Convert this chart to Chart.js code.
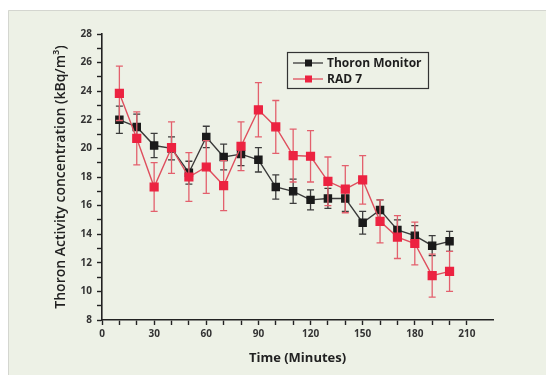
<!DOCTYPE html>
<html>
<head>
<meta charset="utf-8">
<script src="https://cdn.jsdelivr.net/npm/chart.js@4"></script>
<style>
  html, body { margin: 0; padding: 0; background: #fff; }
  #wrap { width: 546px; height: 375px; }
</style>
</head>
<body>
<div id="wrap"><canvas id="thoronChart" width="546" height="375"></canvas></div>
<script>
// sampling times (minutes)
const minutes = [10, 20, 30, 40, 50, 60, 70, 80, 90, 100, 110, 120, 130, 140, 150, 160, 170, 180, 190, 200];

// Thoron Monitor readings (kBq/m3) and their uncertainties
const thoronMonitor = [22.0, 21.5, 20.2, 20.0, 18.3, 20.8, 19.4, 19.6, 19.2, 17.3, 17.0, 16.4, 16.5, 16.5, 14.8, 15.7, 14.3, 13.9, 13.2, 13.5];
const thoronMonitorErr = [0.95, 0.9, 0.85, 0.8, 0.8, 0.75, 0.9, 0.8, 0.85, 0.85, 0.85, 0.7, 0.7, 0.9, 0.8, 0.7, 0.7, 0.7, 0.7, 0.7];

// RAD 7 readings (kBq/m3) and their uncertainties
const rad7 = [23.85, 20.7, 17.3, 20.05, 18.0, 18.7, 17.4, 20.15, 22.7, 21.5, 19.5, 19.45, 17.7, 17.15, 17.8, 14.9, 13.8, 13.35, 11.1, 11.4];
const rad7Err = [1.9, 1.85, 1.7, 1.8, 1.7, 1.85, 1.75, 1.7, 1.9, 1.85, 1.85, 1.8, 1.7, 1.65, 1.7, 1.5, 1.5, 1.5, 1.5, 1.4];

const xTicksLabelled = [0, 30, 60, 90, 120, 150, 180, 210];
const yTicksLabelled = [8, 10, 12, 14, 16, 18, 20, 22, 24, 26, 28];

Chart.defaults.font.family = "'Open Sans', 'DejaVu Sans', sans-serif";
Chart.defaults.color = '#2a2a2a';

const toPoints = (ys, errs) => ys.map((y, i) => ({ x: minutes[i], y: y, err: errs[i] }));

// panel behind the whole figure
const panelBg = {
  id: 'panelBg',
  beforeDraw(chart) {
    const c = chart.ctx;
    c.save();
    c.fillStyle = '#ffffff';
    c.fillRect(0, 0, chart.width, chart.height);
    c.fillStyle = '#edf1e6';
    c.fillRect(8, 10, chart.width - 8, chart.height - 10);
    c.strokeStyle = '#d4d6d0';
    c.lineWidth = 1;
    c.beginPath();
    c.moveTo(8.5, chart.height);
    c.lineTo(8.5, 10.5);
    c.lineTo(chart.width, 10.5);
    c.stroke();
    c.restore();
  }
};

// vertical error bars with caps, drawn under each dataset's line
const errorBars = {
  id: 'errorBars',
  beforeDatasetDraw(chart, args) {
    const ds = chart.data.datasets[args.index];
    const xs = chart.scales.x, ys = chart.scales.y;
    const c = chart.ctx;
    c.save();
    c.strokeStyle = ds.errorColor;
    c.lineWidth = 1.3;
    ds.data.forEach(p => {
      const px = xs.getPixelForValue(p.x);
      const top = ys.getPixelForValue(p.y + p.err);
      const bot = ys.getPixelForValue(p.y - p.err);
      c.beginPath();
      c.moveTo(px, top); c.lineTo(px, bot);
      c.moveTo(px - 3.5, top); c.lineTo(px + 3.5, top);
      c.moveTo(px - 3.5, bot); c.lineTo(px + 3.5, bot);
      c.stroke();
    });
    c.restore();
  }
};

// boxed legend in the upper right of the plot
const boxLegend = {
  id: 'boxLegend',
  afterDraw(chart) {
    const c = chart.ctx;
    const x0 = 287, y0 = 52, w = 141, h = 36;
    c.save();
    c.strokeStyle = '#333';
    c.lineWidth = 1.2;
    c.strokeRect(x0 + 0.5, y0 + 0.5, w, h);
    chart.data.datasets.forEach((ds, i) => {
      const y = y0 + 11 + i * 16;
      c.strokeStyle = ds.borderColor;
      c.lineWidth = 1.3;
      c.beginPath();
      c.moveTo(x0 + 6, y); c.lineTo(x0 + 36, y);
      c.stroke();
      c.fillStyle = ds.pointBackgroundColor;
      c.fillRect(x0 + 18, y - 3.5, 7, 7);
      c.fillStyle = '#1e1e1e';
      c.font = "bold 12px 'Open Sans', sans-serif";
      c.textBaseline = 'middle';
      c.fillText(ds.label, x0 + 40, y + 0.5);
    });
    c.restore();
  }
};

const ctx = document.getElementById('thoronChart').getContext('2d');
const thoronChart = new Chart(ctx, {
  type: 'line',
  data: {
    datasets: [
      {
        label: 'Thoron Monitor',
        data: toPoints(thoronMonitor, thoronMonitorErr),
        borderColor: '#3a3a3a',
        backgroundColor: '#1a1a1a',
        pointBackgroundColor: '#1a1a1a',
        pointBorderColor: '#1a1a1a',
        errorColor: '#3c3c3c',
        borderWidth: 1.4,
        pointStyle: 'rect',
        pointRadius: 5,
        pointHoverRadius: 5,
        tension: 0,
        order: 2
      },
      {
        label: 'RAD 7',
        data: toPoints(rad7, rad7Err),
        borderColor: '#df4f5e',
        backgroundColor: '#ec2341',
        pointBackgroundColor: '#ec2341',
        pointBorderColor: '#ec2341',
        errorColor: '#e3606d',
        borderWidth: 1.4,
        pointStyle: 'rect',
        pointRadius: 5.5,
        pointHoverRadius: 5.5,
        tension: 0,
        order: 1
      }
    ]
  },
  options: {
    responsive: false,
    animation: false,
    devicePixelRatio: 1,
    layout: { padding: { left: 52, right: 53, top: 34, bottom: 5 } },
    plugins: {
      legend: { display: false },
      tooltip: { enabled: false }
    },
    scales: {
      x: {
        type: 'linear',
        min: 0,
        max: 225,
        afterBuildTicks: scale => {
          scale.ticks = scale.ticks.filter(t => t.value % 10 === 0);
        },
        afterFit: scale => { scale.height = 50; },
        border: { color: '#222', width: 1.6 },
        grid: { drawOnChartArea: false, drawTicks: true, tickLength: 5, tickColor: '#222', tickWidth: 1.4 },
        ticks: {
          stepSize: 10,
          autoSkip: false,
          maxRotation: 0,
          padding: 3,
          font: { size: 10, weight: 'bold' },
          color: '#333',
          callback: v => xTicksLabelled.includes(v) ? String(v) : ''
        },
        title: {
          display: true,
          text: 'Time (Minutes)',
          font: { size: 13, weight: 'bold' },
          color: '#222',
          padding: { top: 4, bottom: 4 }
        }
      },
      y: {
        min: 8,
        max: 28,
        afterFit: scale => { scale.width = 50; },
        border: { color: '#222', width: 1.6 },
        grid: { drawOnChartArea: false, drawTicks: true, tickLength: 5, tickColor: '#222', tickWidth: 1.4 },
        ticks: {
          stepSize: 1,
          autoSkip: false,
          padding: 5,
          font: { size: 10, weight: 'bold' },
          color: '#333',
          callback: v => yTicksLabelled.includes(v) ? String(v) : ''
        },
        title: {
          display: true,
          text: 'Thoron Activity concentration (kBq/m\u00B3)',
          font: { size: 14, weight: '600' },
          color: '#222',
          padding: { top: 1, bottom: 2 }
        }
      }
    }
  },
  plugins: [panelBg, errorBars, boxLegend]
});
</script>
</body>
</html>
